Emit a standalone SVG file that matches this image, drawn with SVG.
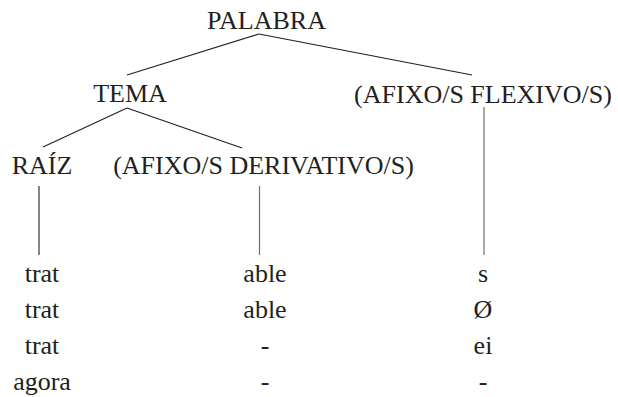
<svg xmlns="http://www.w3.org/2000/svg" width="618" height="397" viewBox="0 0 618 397">
<style>
text{font-family:"Liberation Serif","Times New Roman",serif;font-size:26px;fill:#231f20;text-anchor:middle}
.l{stroke:#231f20;stroke-width:1.1;fill:none}
.g{stroke:#707070;stroke-width:1.2;fill:none}
</style>
<rect width="618" height="397" fill="#fff"/>
<g id="connectors">
<line class="l" x1="259" y1="34" x2="127" y2="75"/>
<line class="l" x1="259" y1="34" x2="472" y2="75"/>
<line class="l" x1="127" y1="108" x2="43" y2="147"/>
<line class="l" x1="127" y1="108" x2="242" y2="148"/>
<line class="l" x1="39" y1="186" x2="39" y2="255"/>
<line class="g" x1="259.5" y1="186" x2="259.5" y2="255"/>
<line class="g" x1="484" y1="107" x2="484" y2="255"/>
</g>
<g id="palabra"><text x="266.5" y="28.5">PALABRA</text></g>
<g id="tema"><text x="130" y="102">TEMA</text></g>
<g id="flexivo"><text x="483" y="103">(AFIXO/S FLEXIVO/S)</text></g>
<g id="raiz"><text x="42" y="174">RAÍZ</text></g>
<g id="derivativo"><text x="263.5" y="174">(AFIXO/S DERIVATIVO/S)</text></g>
<g id="col1">
<text x="42" y="282">trat</text>
<text x="42" y="318">trat</text>
<text x="42" y="354">trat</text>
<text x="42" y="390">agora</text>
</g>
<g id="col2">
<text x="265" y="282">able</text>
<text x="265" y="318">able</text>
<text x="265" y="354">-</text>
<text x="265" y="390">-</text>
</g>
<g id="col3">
<text x="483" y="282">s</text>
<text x="483" y="318">Ø</text>
<text x="483" y="354">ei</text>
<text x="483" y="390">-</text>
</g>
</svg>
